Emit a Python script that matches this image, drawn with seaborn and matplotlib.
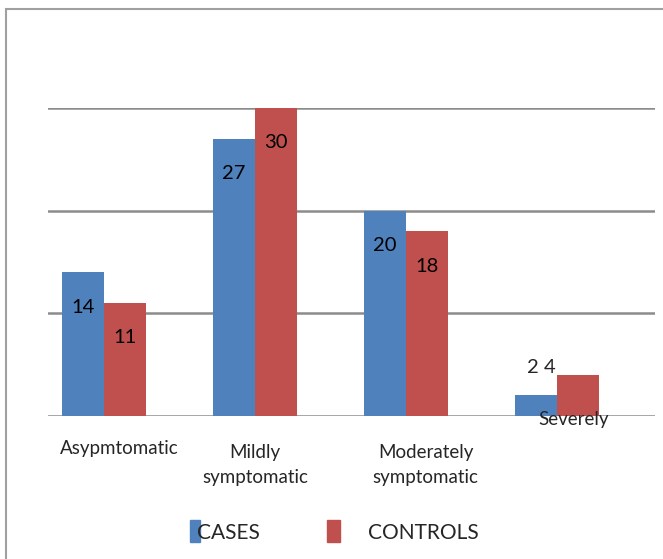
import numpy as np
import pandas as pd
import seaborn as sns
import matplotlib.pyplot as plt
from matplotlib.patches import Rectangle

# data
categories = ["Asypmtomatic", "Mildly symptomatic", "Moderately symptomatic", "Severely"]
cases = [14, 27, 20, 2]
controls = [11, 30, 18, 4]
series_names = ["CASES", "CONTROLS"]

df = pd.DataFrame({
    "category": categories * 2,
    "group": [series_names[0]] * len(categories) + [series_names[1]] * len(categories),
    "value": cases + controls,
})

sns.set_style("white")
plt.rcParams['font.family'] = ['Lato', 'DejaVu Sans']

fig = plt.figure(figsize=(6.63, 5.59), dpi=100)
ax = fig.add_axes([48 / 663, (559 - 416) / 559, 607 / 663, 308 / 559])

palette = {"CASES": "#4F81BD", "CONTROLS": "#C0504D"}
sns.barplot(data=df, x="category", y="value", hue="group", palette=palette,
            width=0.555, dodge=True, ax=ax, legend=False, saturation=1,
            linewidth=0)

ax.set_ylim(0, 30)
ax.set_xlim(-0.37, 3.65)
ax.set_yticks([0, 10, 20, 30])
ax.set_yticklabels([])
ax.yaxis.grid(True, color="#8c8c8c", linewidth=1.8)
ax.set_axisbelow(True)
for s in ax.spines.values():
    s.set_visible(False)
ax.set_xticks([])
ax.set_xlabel("")
ax.set_ylabel("")

# value labels
for cont in ax.containers:
    for bar in cont:
        h = bar.get_height()
        xc = bar.get_x() + bar.get_width() / 2
        if h < 5:
            continue
        ax.text(xc, h - 3.4, f"{h:.0f}", ha="center", va="center", fontsize=14.5, color="black")
sev = len(categories) - 1
ax.text(sev - 0.16, 4.7, f"{cases[sev]}", ha="center", va="center", fontsize=14.5)
ax.text(sev - 0.05, 4.7, f"{controls[sev]}", ha="center", va="center", fontsize=14.5)

# category labels, placed like the original
lab_pos = [(0.1, -3.2), (0.0, -4.8), (0.13, -4.8), (0.11, -0.3)]
lab_txt = ["Asypmtomatic", "Mildly\nsymptomatic", "Moderately\nsymptomatic", "Severely"]
for i, (dx, y) in enumerate(lab_pos):
    ax.text(i + dx, y, lab_txt[i], ha="center", va="center", fontsize=13.5,
            linespacing=1.6, clip_on=False)

# legend
fig.patches.append(Rectangle((190 / 663, (559 - 542) / 559), 10 / 663, 22 / 559,
                             transform=fig.transFigure, color=palette["CASES"]))
fig.patches.append(Rectangle((327 / 663, (559 - 542) / 559), 13 / 663, 22 / 559,
                             transform=fig.transFigure, color=palette["CONTROLS"]))
fig.text(197 / 663, (559 - 533) / 559, "CASES", fontsize=15, va="center")
fig.text(368 / 663, (559 - 533) / 559, "CONTROLS", fontsize=15, va="center")

# outer frame (cropped on right and bottom)
fig.patches.append(Rectangle((6 / 663, -0.05), 1.0, (559 - 9) / 559 + 0.05,
                             transform=fig.transFigure, fill=False,
                             edgecolor="#a0a0a0", linewidth=1.5))

fig.savefig("out.png", dpi=100, facecolor="white")
